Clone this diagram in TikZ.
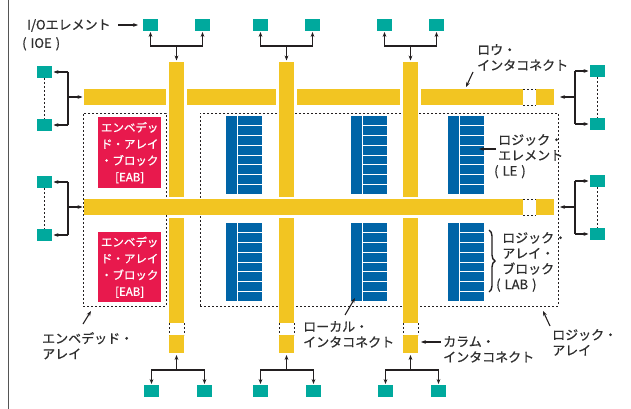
\documentclass[tikz,border=0pt]{standalone}
\usepackage{fontspec}
\setmainfont{Noto Sans CJK JP}[FakeBold=0.8]
\usetikzlibrary{arrows.meta,decorations.pathreplacing}
\definecolor{barY}{HTML}{F2C522}
\definecolor{ioT}{HTML}{00A99D}
\definecolor{eabR}{HTML}{E8194D}
\definecolor{labB}{HTML}{0064A7}
\definecolor{txtC}{HTML}{2E2E2E}
\definecolor{lnC}{HTML}{231F20}
\definecolor{bordC}{HTML}{555555}
\begin{document}
\begin{tikzpicture}[x=1pt,y=-1pt,
 hbar/.style={fill=barY, inner sep=0, outer sep=0, anchor=north west, minimum height=16pt},
 vbar/.style={fill=barY, inner sep=0, outer sep=0, anchor=north west, minimum width=15pt},
 ioe/.style={fill=ioT, inner sep=0, outer sep=0, anchor=north west, minimum width=15pt, minimum height=12pt},
 ln/.style={draw=lnC, line width=1.1pt},
 arr/.style={ln, -{Stealth[length=5pt,width=3.8pt]}},
 dsh/.style={draw=lnC, line width=0.9pt, dash pattern=on 2pt off 2pt},
 dbox/.style={dsh, inner sep=0, outer sep=0, anchor=north west},
 lbl/.style={text=txtC, font=\fontsize{13}{15.5}\selectfont, align=left, anchor=north west, inner sep=0},
 eab/.style={fill=eabR, text=white, font=\fontsize{11.5}{16.5}\selectfont, align=center, inner sep=0, anchor=north west, minimum width=63pt, minimum height=71pt},
]
\useasboundingbox (0,0) rectangle (631,409);
\draw[bordC, line width=1.6pt] (8.5,0) -- (8.5,409);

% dashed areas
\node[dbox, minimum width=83pt, minimum height=193pt] (eaa) at (83,113) {};
\node[dbox, minimum width=358pt, minimum height=193pt] (lga) at (200,113) {};

% EAB blocks
\node[eab] (eab1) at (98,117) {エンベデッ\\ド・アレイ\\・ブロック\\{[EAB]}};
\node[eab, minimum height=70pt] (eab2) at (98,232) {エンベデッ\\ド・アレイ\\・ブロック\\{[EAB]}};

% LAB blocks
\foreach \lx/\ly in {226/116, 351/116, 448/116, 226/223, 351/223, 448/223} {
  \fill[labB] (\lx,\ly) rectangle ++(11,78);
  \fill[labB] (\lx+12,\ly) rectangle ++(24,78);
  \foreach \i in {1,...,7} \draw[white, line width=0.9pt] (\lx+12,\ly+\i*9.75) -- ++(24,0);
}

% columns
\foreach \n/\x in {1/169, 2/279, 3/403} {
  \node[vbar, minimum height=135pt] (cu\n) at (\x,62) {};
  \node[vbar, minimum height=105pt] (cl\n) at (\x,218) {};
  \node[vbar, minimum height=18pt] (cb\n) at (\x,335) {};
  \draw[dsh] (cl\n.south west) -- (cb\n.north west);
  \draw[dsh] (cl\n.south east) -- (cb\n.north east);
}

% rows
\node[hbar, minimum width=82pt] (r1a) at (84,89) {};
\node[hbar, minimum width=89pt] (r1b) at (187,89) {};
\node[hbar, minimum width=103pt] (r1c) at (297,89) {};
\node[hbar, minimum width=102pt] (r1d) at (421,89) {};
\node[hbar, minimum width=18pt] (r1e) at (536,89) {};
\draw[dsh] (r1d.north east) -- (r1e.north west);
\draw[dsh] (r1d.south east) -- (r1e.south west);
\node[hbar, minimum width=439pt] (r2a) at (84,199) {};
\node[hbar, minimum width=18pt] (r2b) at (536,199) {};
\draw[dsh] (r2a.north east) -- (r2b.north west);
\draw[dsh] (r2a.south east) -- (r2b.south west);

% top IOEs
\foreach \n/\xa/\xb/\xc in {1/143/195/176.5, 2/253/305/286.5, 3/377/429/410.5} {
  \node[ioe] (ta\n) at (\xa,19) {};
  \node[ioe] (tb\n) at (\xb,19) {};
  \coordinate (tt\n) at (\xc,46);
  \draw[arr, shorten >=1pt] (tt\n) -| (ta\n.south);
  \draw[arr, shorten >=1pt] (tt\n) -| (tb\n.south);
  \draw[arr, shorten >=1.5pt] (tt\n) -- (cu\n.north);
}
% bottom IOEs
\foreach \n/\xa/\xb/\xc in {1/144/197/176.5, 2/253/306/286.5, 3/378/431/410.5} {
  \node[ioe] (ba\n) at (\xa,385) {};
  \node[ioe] (bb\n) at (\xb,385) {};
  \coordinate (bt\n) at (\xc,370);
  \draw[arr, shorten >=2pt] (bt\n) -- (cb\n.south);
  \draw[arr, shorten >=1pt] (bt\n) -| (ba\n.north);
  \draw[arr, shorten >=1pt] (bt\n) -| (bb\n.north);
}
% left IOEs
\foreach \n/\ya/\yb/\ym/\row in {1/66/119/97/r1a, 2/176/229/207/r2a} {
  \node[ioe] (la\n) at (37,\ya) {};
  \node[ioe] (lb\n) at (37,\yb) {};
  \draw[dsh] (la\n.south) -- (lb\n.north);
  \coordinate (lt\n) at (68,\ym);
  \draw[ln] (lt\n |- la\n.east) -- (lt\n |- lb\n.east);
  \draw[arr, shorten >=1.5pt] (lt\n |- la\n.east) -- (la\n.east);
  \draw[arr, shorten >=1.5pt] (lt\n |- lb\n.east) -- (lb\n.east);
  \draw[arr, shorten >=1.5pt] (lt\n) -- (\row.west);
}
% right IOEs
\foreach \n/\ya/\yb/\ym/\row in {1/65/118/97/r1e, 2/175/228/207/r2b} {
  \node[ioe] (ra\n) at (590,\ya) {};
  \node[ioe] (rb\n) at (590,\yb) {};
  \draw[dsh] (ra\n.south) -- (rb\n.north);
  \coordinate (rt\n) at (575,\ym);
  \draw[ln] (rt\n |- ra\n.west) -- (rt\n |- rb\n.west);
  \draw[arr, shorten >=1.5pt] (rt\n |- ra\n.west) -- (ra\n.west);
  \draw[arr, shorten >=1.5pt] (rt\n |- rb\n.west) -- (rb\n.west);
  \draw[arr, shorten >=6pt] (rt\n) -- (\row.east);
}

% labels
\node[lbl] (lioe) at (27,19) {I/Oエレメント};
\node[lbl] (lioe2) at (22,37) {(\hspace{4pt}IOE\hspace{4pt})};
\coordinate (aioe) at (118,25);
\draw[arr, shorten >=5pt] (aioe) -- (ta1.west);

\node[lbl] (lrow) at (477,44) {ロウ・\\インタコネクト};
\coordinate (arow) at (473,72); \coordinate (arowt) at (466,87);
\draw[arr] (arow) -- (arowt);

\node[lbl] (lle) at (498,134) {ロジック・\\エレメント\\\hspace*{-4pt}(\hspace{4pt}LE\hspace{4pt})};
\coordinate (ale) at (496,149); \coordinate (alet) at (479,149);
\draw[arr] (ale) -- (alet);

\draw[draw=lnC, line width=1.4pt, decorate, decoration={brace, amplitude=6pt}] (489,230) -- (489,292);
\node[lbl] (llab) at (502,232) {ロジック・\\アレイ・\\ブロック\\\hspace*{-6pt}(\hspace{4pt}LAB\hspace{4pt})};

\node[lbl] (lea) at (42,332) {エンベデッド・\\アレイ};
\coordinate (aea) at (83,324); \coordinate (aeat) at (91,311);
\draw[arr] (aea) -- (aeat);

\node[lbl] (lli) at (303,321) {ローカル・\\インタコネクト};
\coordinate (ali) at (345,315); \coordinate (alit) at (355,298);
\draw[arr] (ali) -- (alit);

\node[lbl] (lci) at (443,336) {カラム・\\インタコネクト};
\coordinate (aci) at (441,342); \coordinate (acit) at (421,342);
\draw[arr] (aci) -- (acit);

\node[lbl] (lla) at (552,329) {ロジック・\\アレイ};
\coordinate (ala) at (550,326); \coordinate (alat) at (543,311);
\draw[arr] (ala) -- (alat);
\end{tikzpicture}
\end{document}
